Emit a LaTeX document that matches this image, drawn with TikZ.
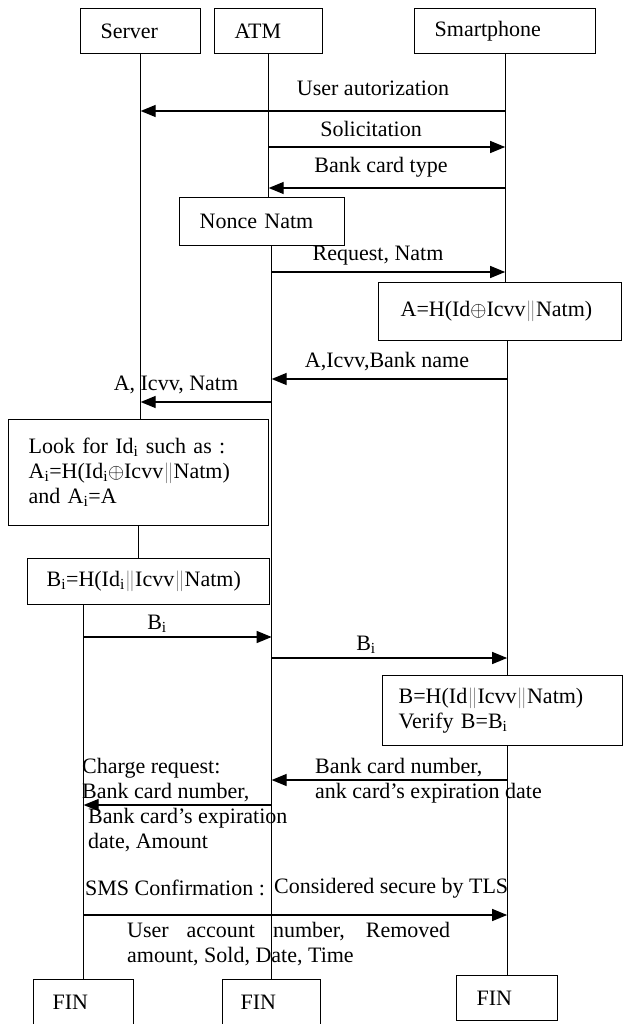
\documentclass[tikz,border=0pt]{standalone}
\usepackage{fontspec}
\setmainfont{Liberation Serif}
\usepackage{tikz}
\usetikzlibrary{arrows.meta,positioning,calc}
\usepackage{xcolor}
\newcommand{\diagfont}{\fontsize{22}{25}\selectfont}
\newcommand{\sbi}{\textsubscript{i}}
\newcommand{\dbar}{\textcolor{gray}{$\big\|$}}
\tikzset{
    % Lifeline head box
    actorbox/.style={
        draw=black,
        line width=1.3pt,
        anchor=north west,
        align=left,
        inner xsep=20pt,
        inner ysep=0pt,
        minimum height=45pt
    },
    % Computation box
    calcbox/.style={
        actorbox,
        inner xsep=#1
    },
    % End box
    finbox/.style={
        actorbox,
        minimum height=47pt
    },
    % Lifeline
    lifeline/.style={
        line width=1.3pt,
        draw=black
    },
    % Message arrow
    msgarrow/.style={
        -{Triangle[length=15pt,width=12pt]},
        line width=1.3pt,
        draw=black
    },
    % Message text
    msglabel/.style={
        inner sep=0pt,
        align=left
    }
}
\begin{document}
\begin{tikzpicture}[x=1pt, y=-1pt, font=\diagfont]
    \useasboundingbox (0,0) rectangle (626,1024);

    \node[actorbox, text width=80pt] (server) at (80,8) {Server};
    \node[actorbox, text width=68pt] (atm) at (214,8) {ATM};
    \node[actorbox, text width=141pt] (phone) at (414,8) {Smartphone};

    \node[calcbox=20pt, text width=125pt, minimum height=48pt] (nonce) at (179,197) {Nonce Natm};
    \node[calcbox=22pt, text width=199pt, minimum height=58pt] (hashA) at (378,282) {A=H(Id$\oplus$Icvv\dbar Natm)};
    \node[calcbox=20pt, text width=220pt, minimum height=106pt] (lookbox) at (8,419) {Look for Id\sbi{} such as :\\A\sbi=H(Id\sbi$\oplus$Icvv\dbar Natm)\\and A\sbi=A\\[6pt]};
    \node[calcbox=19pt, text width=204pt, minimum height=46pt] (hashBi) at (27,558) {B\sbi=H(Id\sbi\dbar Icvv\dbar Natm)};
    \node[calcbox=16pt, text width=208pt, minimum height=70pt] (hashB) at (382,675) {B=H(Id\dbar Icvv\dbar Natm)\\Verify B=B\sbi};

    \node[finbox, calcbox=19pt, text width=62pt] (fin1) at (33,979) {FIN};
    \node[finbox, calcbox=18pt, text width=62pt] (fin2) at (222,979) {FIN};
    \node[finbox, calcbox=20pt, text width=61pt] (fin3) at (456,975) {FIN};

    % lifelines
    \draw[lifeline] (server.south) -- (server.south |- lookbox.north);
    \draw[lifeline] (lookbox.south) -- (lookbox.south |- hashBi.north);
    \draw[lifeline] (fin1.north |- hashBi.south) -- (fin1.north);
    \draw[lifeline] (atm.south) -- (atm.south |- nonce.north);
    \draw[lifeline] (fin2.north |- nonce.south) -- (fin2.north);
    \draw[lifeline] (phone.south) -- (phone.south |- hashA.north);
    \draw[lifeline] (fin3.north |- hashA.south) -- (fin3.north |- hashB.north);
    \draw[lifeline] (fin3.north |- hashB.south) -- (fin3.north);

    % message levels
    \coordinate (lv1) at (0,111);
    \coordinate (lv2) at (0,147);
    \coordinate (lv3) at (0,188);
    \coordinate (lv4) at (0,272);
    \coordinate (lv5) at (0,379);
    \coordinate (lv6) at (0,402);
    \coordinate (lv7) at (0,637);
    \coordinate (lv8) at (0,658);
    \coordinate (lv9) at (0,780);
    \coordinate (lv10) at (0,805);
    \coordinate (lv11) at (0,915);

    \draw[msgarrow] (phone.south |- lv1) -- (server.south |- lv1);
    \draw[msgarrow] (atm.south |- lv2) -- (phone.south |- lv2);
    \draw[msgarrow] (phone.south |- lv3) -- (atm.south |- lv3);
    \draw[msgarrow] (fin2.north |- lv4) -- (phone.south |- lv4);
    \draw[msgarrow] (fin3.north |- lv5) -- (fin2.north |- lv5);
    \draw[msgarrow] (fin2.north |- lv6) -- (server.south |- lv6);
    \draw[msgarrow] (fin1.north |- lv7) -- (fin2.north |- lv7);
    \draw[msgarrow] (fin2.north |- lv8) -- (fin3.north |- lv8);
    \draw[msgarrow] (fin3.north |- lv9) -- (fin2.north |- lv9);
    \draw[msgarrow] (fin2.north |- lv10) -- (fin1.north |- lv10);
    \draw[msgarrow] (fin1.north |- lv11) -- (fin3.north |- lv11);

    % message texts
    \node[msglabel] (lblAuth) at (373,88) {User autorization};
    \node[msglabel] (lblSol) at (371,129) {Solicitation};
    \node[msglabel] (lblType) at (381,167) {Bank card type};
    \node[msglabel] (lblReq) at (378,256) {Request, Natm};
    \node[msglabel] (lblBank) at (387,362) {A,Icvv,Bank name};
    \node[msglabel] (lblNatm) at (176,385) {A, Icvv, Natm};
    \node[msglabel] (lblBi) at (157,624) {B\sbi};
    \node[msglabel] (lblBii) at (366,645) {B\sbi};
    \node[msglabel, anchor=west] (lblCard) at (315,781) {Bank card number,\\ank card’s expiration date};
    \node[msglabel, anchor=west] (lblCharge) at (82,780) {Charge request:\\Bank card number,};
    \node[msglabel, anchor=west] (lblExp) at (88,830) {Bank card’s expiration\\date, Amount};
    \node[msglabel, anchor=west] (lblSMS) at (85,888) {SMS Confirmation :};
    \node[msglabel, anchor=west] (lblTLS) at (274,888) {Considered secure by TLS};
    \node[msglabel, anchor=west, text width=323pt, align=justify] (lblSold) at (127,944) {User account number, Removed amount, Sold, Date, Time};
\end{tikzpicture}
\end{document}
